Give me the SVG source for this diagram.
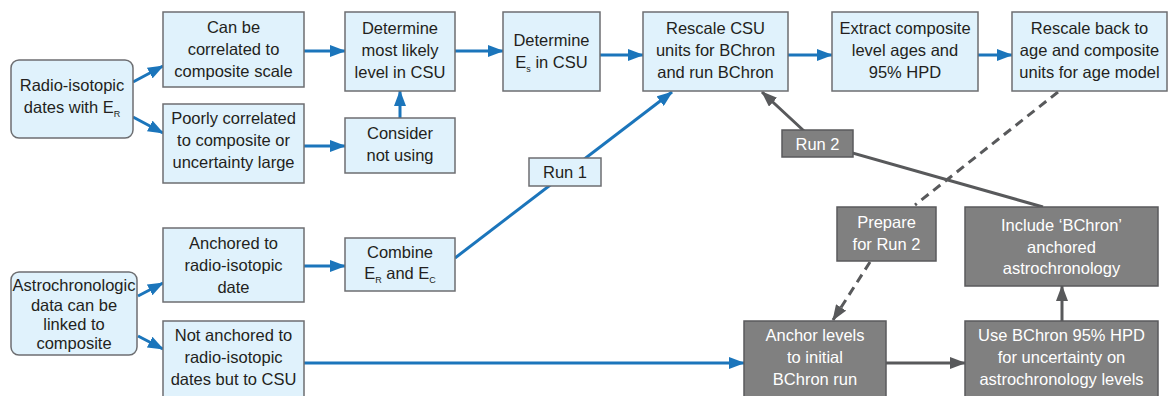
<svg xmlns="http://www.w3.org/2000/svg" width="1168" height="396" viewBox="0 0 1168 396">
<style>
.lb{fill:#e0f2fc;stroke:#6d6e71;stroke-width:1.5}
.dk{fill:#808080;stroke:#5a5a5c;stroke-width:1.5}
text{font-family:"Liberation Sans",Arial,sans-serif;font-size:16.5px;text-anchor:middle;fill:#231f20}
.w{fill:#ffffff}
.sub{font-size:9px}
.bl{stroke:#1b75bb;stroke-width:3;fill:none;marker-end:url(#ab)}
.gy{stroke:#58595b;stroke-width:3;fill:none}
</style>
<defs>
<marker id="ab" markerUnits="userSpaceOnUse" markerWidth="16" markerHeight="12" refX="15" refY="6" orient="auto"><path d="M0,0 L16,6 L0,12 z" fill="#1b75bb"/></marker>
<marker id="ag" markerUnits="userSpaceOnUse" markerWidth="16" markerHeight="12" refX="15" refY="6" orient="auto"><path d="M0,0 L16,6 L0,12 z" fill="#58595b"/></marker>
</defs>
<g id="connectors">
<path class="bl" d="M133,82 L163,66"/>
<path class="bl" d="M133,117 L163,133"/>
<path class="bl" d="M304,51 L345,51"/>
<path class="bl" d="M304,146 L345,146"/>
<path class="bl" d="M400,118 L400,91"/>
<path class="bl" d="M455,51 L503,51"/>
<path class="bl" d="M600,55 L643,55"/>
<path class="bl" d="M788,55 L832,55"/>
<path class="bl" d="M978,55 L1012,55"/>
<path class="bl" d="M455,258 L672,92"/>
<path class="bl" d="M304,266 L345,266"/>
<path class="bl" d="M138,296 L163,283"/>
<path class="bl" d="M138,336 L163,349"/>
<path class="bl" d="M304,363 L744,363"/>
<path class="gy" d="M886,363 L965,363" stroke-width="4" marker-end="url(#ag)"/>
<path class="gy" d="M1062,321 L1062,286" stroke-width="4" marker-end="url(#ag)"/>
<path class="gy" d="M1043,207 L817,143 L762,92" marker-end="url(#ag)"/>
<path class="gy" d="M1058,92 L915,205" stroke-dasharray="9,6"/>
<path class="gy" d="M870,262 L833,320" stroke-dasharray="9,6" marker-end="url(#ag)"/>
</g>
<g id="radio">
<rect class="lb" x="11" y="60" width="122" height="78" rx="8"/>
<text x="72" y="91">Radio-isotopic</text>
<text x="72" y="113">dates with E<tspan class="sub" dy="4">R</tspan></text>
</g>
<g id="canbe">
<rect class="lb" x="163" y="12" width="141" height="75"/>
<text x="233.5" y="33">Can be</text>
<text x="233.5" y="55">correlated to</text>
<text x="233.5" y="77">composite scale</text>
</g>
<g id="poorly">
<rect class="lb" x="163" y="104" width="141" height="79"/>
<text x="233.5" y="124">Poorly correlated</text>
<text x="233.5" y="146">to composite or</text>
<text x="233.5" y="168">uncertainty large</text>
</g>
<g id="determine1">
<rect class="lb" x="345" y="12" width="110" height="79"/>
<text x="400" y="34">Determine</text>
<text x="400" y="56">most likely</text>
<text x="400" y="78">level in CSU</text>
</g>
<g id="consider">
<rect class="lb" x="345" y="118" width="110" height="55"/>
<text x="400" y="139">Consider</text>
<text x="400" y="161">not using</text>
</g>
<g id="determine2">
<rect class="lb" x="503" y="12" width="97" height="79"/>
<text x="551.5" y="46">Determine</text>
<text x="551.5" y="68">E<tspan class="sub" dy="4">s</tspan><tspan dy="-4"> in CSU</tspan></text>
</g>
<g id="rescale">
<rect class="lb" x="643" y="12" width="145" height="79"/>
<text x="715.5" y="34">Rescale CSU</text>
<text x="715.5" y="56">units for BChron</text>
<text x="715.5" y="78">and run BChron</text>
</g>
<g id="extract">
<rect class="lb" x="832" y="12" width="146" height="79"/>
<text x="905" y="34">Extract composite</text>
<text x="905" y="56">level ages and</text>
<text x="905" y="78">95% HPD</text>
</g>
<g id="rescaleback">
<rect class="lb" x="1012" y="12" width="155" height="79"/>
<text x="1089.5" y="34">Rescale back to</text>
<text x="1089.5" y="56">age and composite</text>
<text x="1089.5" y="78">units for age model</text>
</g>
<g id="run1">
<rect class="lb" x="529" y="158" width="72" height="28"/>
<text x="565" y="178">Run 1</text>
</g>
<g id="run2">
<rect class="dk" x="782" y="130" width="71" height="27"/>
<text class="w" x="817.5" y="149.5">Run 2</text>
</g>
<g id="prepare">
<rect class="dk" x="837" y="207" width="99" height="54"/>
<text class="w" x="886.5" y="228">Prepare</text>
<text class="w" x="886.5" y="250">for Run 2</text>
</g>
<g id="include">
<rect class="dk" x="965" y="207" width="193" height="79"/>
<text class="w" x="1061.5" y="231">Include ‘BChron’</text>
<text class="w" x="1061.5" y="253">anchored</text>
<text class="w" x="1061.5" y="274">astrochronology</text>
</g>
<g id="anchorlevels">
<rect class="dk" x="744" y="321" width="142" height="76"/>
<text class="w" x="815" y="341">Anchor levels</text>
<text class="w" x="815" y="363">to initial</text>
<text class="w" x="815" y="385">BChron run</text>
</g>
<g id="usebchron">
<rect class="dk" x="965" y="321" width="193" height="76"/>
<text class="w" x="1061.5" y="341">Use BChron 95% HPD</text>
<text class="w" x="1061.5" y="363">for uncertainty on</text>
<text class="w" x="1061.5" y="385">astrochronology levels</text>
</g>
<g id="astro">
<rect class="lb" x="11" y="272" width="126" height="83" rx="8"/>
<text x="74" y="291">Astrochronologic</text>
<text x="74" y="311">data can be</text>
<text x="74" y="330">linked to</text>
<text x="74" y="349">composite</text>
</g>
<g id="anchored">
<rect class="lb" x="163" y="228" width="141" height="74"/>
<text x="233.5" y="249">Anchored to</text>
<text x="233.5" y="271">radio-isotopic</text>
<text x="233.5" y="293">date</text>
</g>
<g id="combine">
<rect class="lb" x="345" y="238" width="110" height="53"/>
<text x="400" y="258">Combine</text>
<text x="400" y="279">E<tspan class="sub" dy="4">R</tspan><tspan dy="-4"> and E</tspan><tspan class="sub" dy="4">C</tspan></text>
</g>
<g id="notanchored">
<rect class="lb" x="163" y="321" width="141" height="76"/>
<text x="233.5" y="341">Not anchored to</text>
<text x="233.5" y="363">radio-isotopic</text>
<text x="233.5" y="385">dates but to CSU</text>
</g>
</svg>
